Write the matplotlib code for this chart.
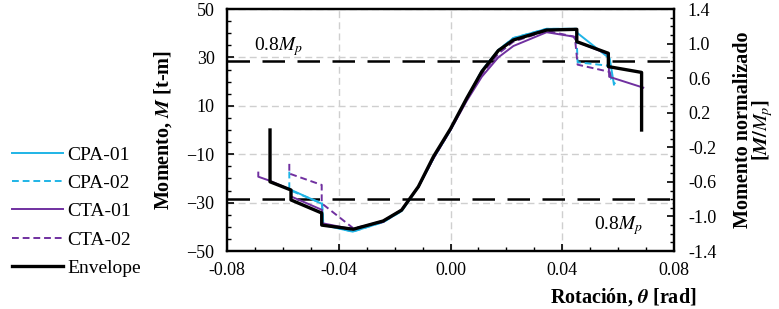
import matplotlib
matplotlib.use("Agg")
import matplotlib.pyplot as plt
from matplotlib.ticker import MultipleLocator

plt.rcParams['font.family'] = ['Liberation Serif', 'DejaVu Serif']
plt.rcParams['mathtext.fontset'] = 'stix'

# ---- data (rotation [rad], moment [t-m]) ----
cpa01_x = [-0.0570, -0.0460, -0.0455, -0.0350, -0.0240, -0.0175, -0.0115, -0.0060, 0.0000, 0.0058, 0.0112, 0.0171, 0.0225, 0.0344, 0.0450, 0.0455, 0.0570, 0.0585]
cpa01_y = [-24.8, -30.5, -39.3, -42.0, -38.0, -33.5, -23.5, -11.5, 0.0, 13.0, 24.5, 33.0, 38.0, 41.8, 41.8, 40.0, 29.5, 18.8]

cpa02_x = [-0.0577, -0.0577, -0.0460, -0.0455, -0.0350, -0.0240, -0.0175, -0.0115, -0.0060, 0.0000, 0.0058, 0.0112, 0.0171, 0.0225, 0.0344, 0.0450, 0.0455, 0.0570, 0.0575, 0.0590]
cpa02_y = [-17.2, -24.8, -30.3, -39.0, -42.0, -38.0, -33.5, -23.5, -11.5, 0.0, 13.0, 24.5, 33.0, 38.0, 41.8, 41.8, 28.0, 26.5, 21.0, 19.0]

cta01_x = [-0.0688, -0.0688, -0.0646, -0.0570, -0.0570, -0.0460, -0.0460, -0.0350, -0.0240, -0.0175, -0.0115, -0.0060, 0.0000, 0.0058, 0.0112, 0.0171, 0.0225, 0.0344, 0.0440, 0.0452, 0.0565, 0.0568, 0.0690]
cta01_y = [-17.6, -19.3, -21.0, -24.8, -27.5, -33.0, -38.5, -41.0, -37.5, -33.0, -23.5, -11.5, 0.0, 12.0, 22.0, 30.0, 34.7, 40.4, 38.6, 36.5, 31.3, 22.0, 17.5]

cta02_x = [-0.0577, -0.0577, -0.0461, -0.0461, -0.0348, -0.0240, -0.0175, -0.0115, -0.0060, 0.0000, 0.0058, 0.0112, 0.0171, 0.0225, 0.0344, 0.0445, 0.0455, 0.0570, 0.0575]
cta02_y = [-14.0, -18.0, -22.7, -30.3, -40.6, -38.0, -33.0, -23.5, -11.5, 0.0, 12.5, 23.0, 31.5, 36.5, 41.0, 38.5, 27.0, 24.0, 21.0]

env_x = [-0.0646, -0.0646, -0.0571, -0.0571, -0.0461, -0.0461, -0.0348, -0.0241, -0.0175, -0.0115, -0.0061, 0.0000, 0.0058, 0.0112, 0.0171, 0.0225, 0.0344, 0.0452, 0.0452, 0.0565, 0.0565, 0.0684, 0.0684]
env_y = [0.0, -21.4, -24.8, -28.9, -34.3, -39.3, -41.0, -37.6, -33.1, -23.4, -11.0, 0.5, 13.1, 24.1, 32.8, 37.2, 41.3, 41.6, 36.5, 31.7, 26.2, 23.8, 0.0]

Mp = 50.0 / 1.4
mp_label = r'0.8$M_p$'

x_ticks = [-0.08, -0.04, 0.00, 0.04, 0.08]
x_labels = ['-0.08', '-0.04', '0.00', '0.04', '0.08']
y_ticks = [50, 30, 10, -10, -30, -50]
y2_ticks = [1.4, 1.0, 0.6, 0.2, -0.2, -0.6, -1.0, -1.4]

cyan = '#1fb4e6'
purple = '#7030a0'

fig = plt.figure(figsize=(7.79, 3.09), dpi=100)
ax = fig.add_axes([227/779, 1-251/309, 447/779, 242/309])

ax.plot(cpa01_x, cpa01_y, color=cyan, lw=1.4, label='CPA-01', zorder=3)
ax.plot(cpa02_x, cpa02_y, color=cyan, lw=1.4, ls=(0, (3.5, 2)), label='CPA-02', zorder=3)
ax.plot(cta01_x, cta01_y, color=purple, lw=1.4, label='CTA-01', zorder=3)
ax.plot(cta02_x, cta02_y, color=purple, lw=1.4, ls=(0, (3.5, 2)), label='CTA-02', zorder=3)
ax.plot(env_x, env_y, color='black', lw=2.4, label='Envelope', zorder=4)

ax.axhline(0.8 * Mp, color='black', lw=1.8, ls=(0, (9, 5)), zorder=2)
ax.axhline(-0.8 * Mp, color='black', lw=1.8, ls=(0, (9, 5)), zorder=2)
ax.text(-0.0705, 34.5, mp_label, fontsize=14, ha='left', va='center')
ax.text(0.0513, -39.5, mp_label, fontsize=14, ha='left', va='center')

ax.set_xlim(-0.08, 0.08)
ax.set_ylim(-50, 50)
ax.set_xticks(x_ticks)
ax.set_xticklabels(x_labels)
ax.set_yticks(y_ticks)
ax.xaxis.set_minor_locator(MultipleLocator(0.01))
ax.yaxis.set_minor_locator(MultipleLocator(5))
ax.tick_params(which='both', direction='in', labelsize=13)
ax.tick_params(which='major', length=5, width=1.2)
ax.tick_params(which='minor', length=3, width=1.0)
ax.tick_params(axis='x', which='major', pad=8)
ax.tick_params(axis='y', which='major', pad=9)
ax.grid(True, which='major', color='#cfcfcf', ls=(0, (5, 3)), lw=1.0, zorder=0)
for s in ax.spines.values():
    s.set_linewidth(1.6)

ax.set_xlabel(r'Rotación, $\boldsymbol{\theta}$ [rad]', fontsize=14.5, fontweight='bold', ha='right')
ax.xaxis.set_label_coords((696 - 227) / 447, -(286 - 251) / 242)
ax.set_ylabel(r'Momento, $\boldsymbol{M}$ [t-m]', fontsize=14.5, fontweight='bold')
ax.yaxis.set_label_coords(-(227 - 174) / 447, 0.5)

ax2 = ax.twinx()
ax2.set_ylim(-1.4, 1.4)
ax2.set_yticks(y2_ticks)
ax2.set_yticklabels(['%.1f' % v for v in y2_ticks])
ax2.yaxis.set_minor_locator(MultipleLocator(0.1))
ax2.tick_params(which='both', direction='in', labelsize=13)
ax2.tick_params(which='major', length=5, width=1.2, pad=10)
ax2.tick_params(which='minor', length=3, width=1.0)
ax2.set_ylabel('Momento normalizado\n' + r'[$\boldsymbol{M/M_p}$]', fontsize=14.5, fontweight='bold',
               linespacing=0.85)
ax2.yaxis.set_label_coords((733 - 227) / 447, 0.5)
for s in ax2.spines.values():
    s.set_linewidth(1.6)

h, l = ax.get_legend_handles_labels()
fig.legend(h, l, loc='upper left', bbox_to_anchor=(12/779, 1 - 146/309), frameon=False,
           fontsize=14, handlelength=2.6, handletextpad=0.26, labelspacing=0.55,
           borderaxespad=0.0, borderpad=0.0)

fig.savefig('out.png', dpi=100)
